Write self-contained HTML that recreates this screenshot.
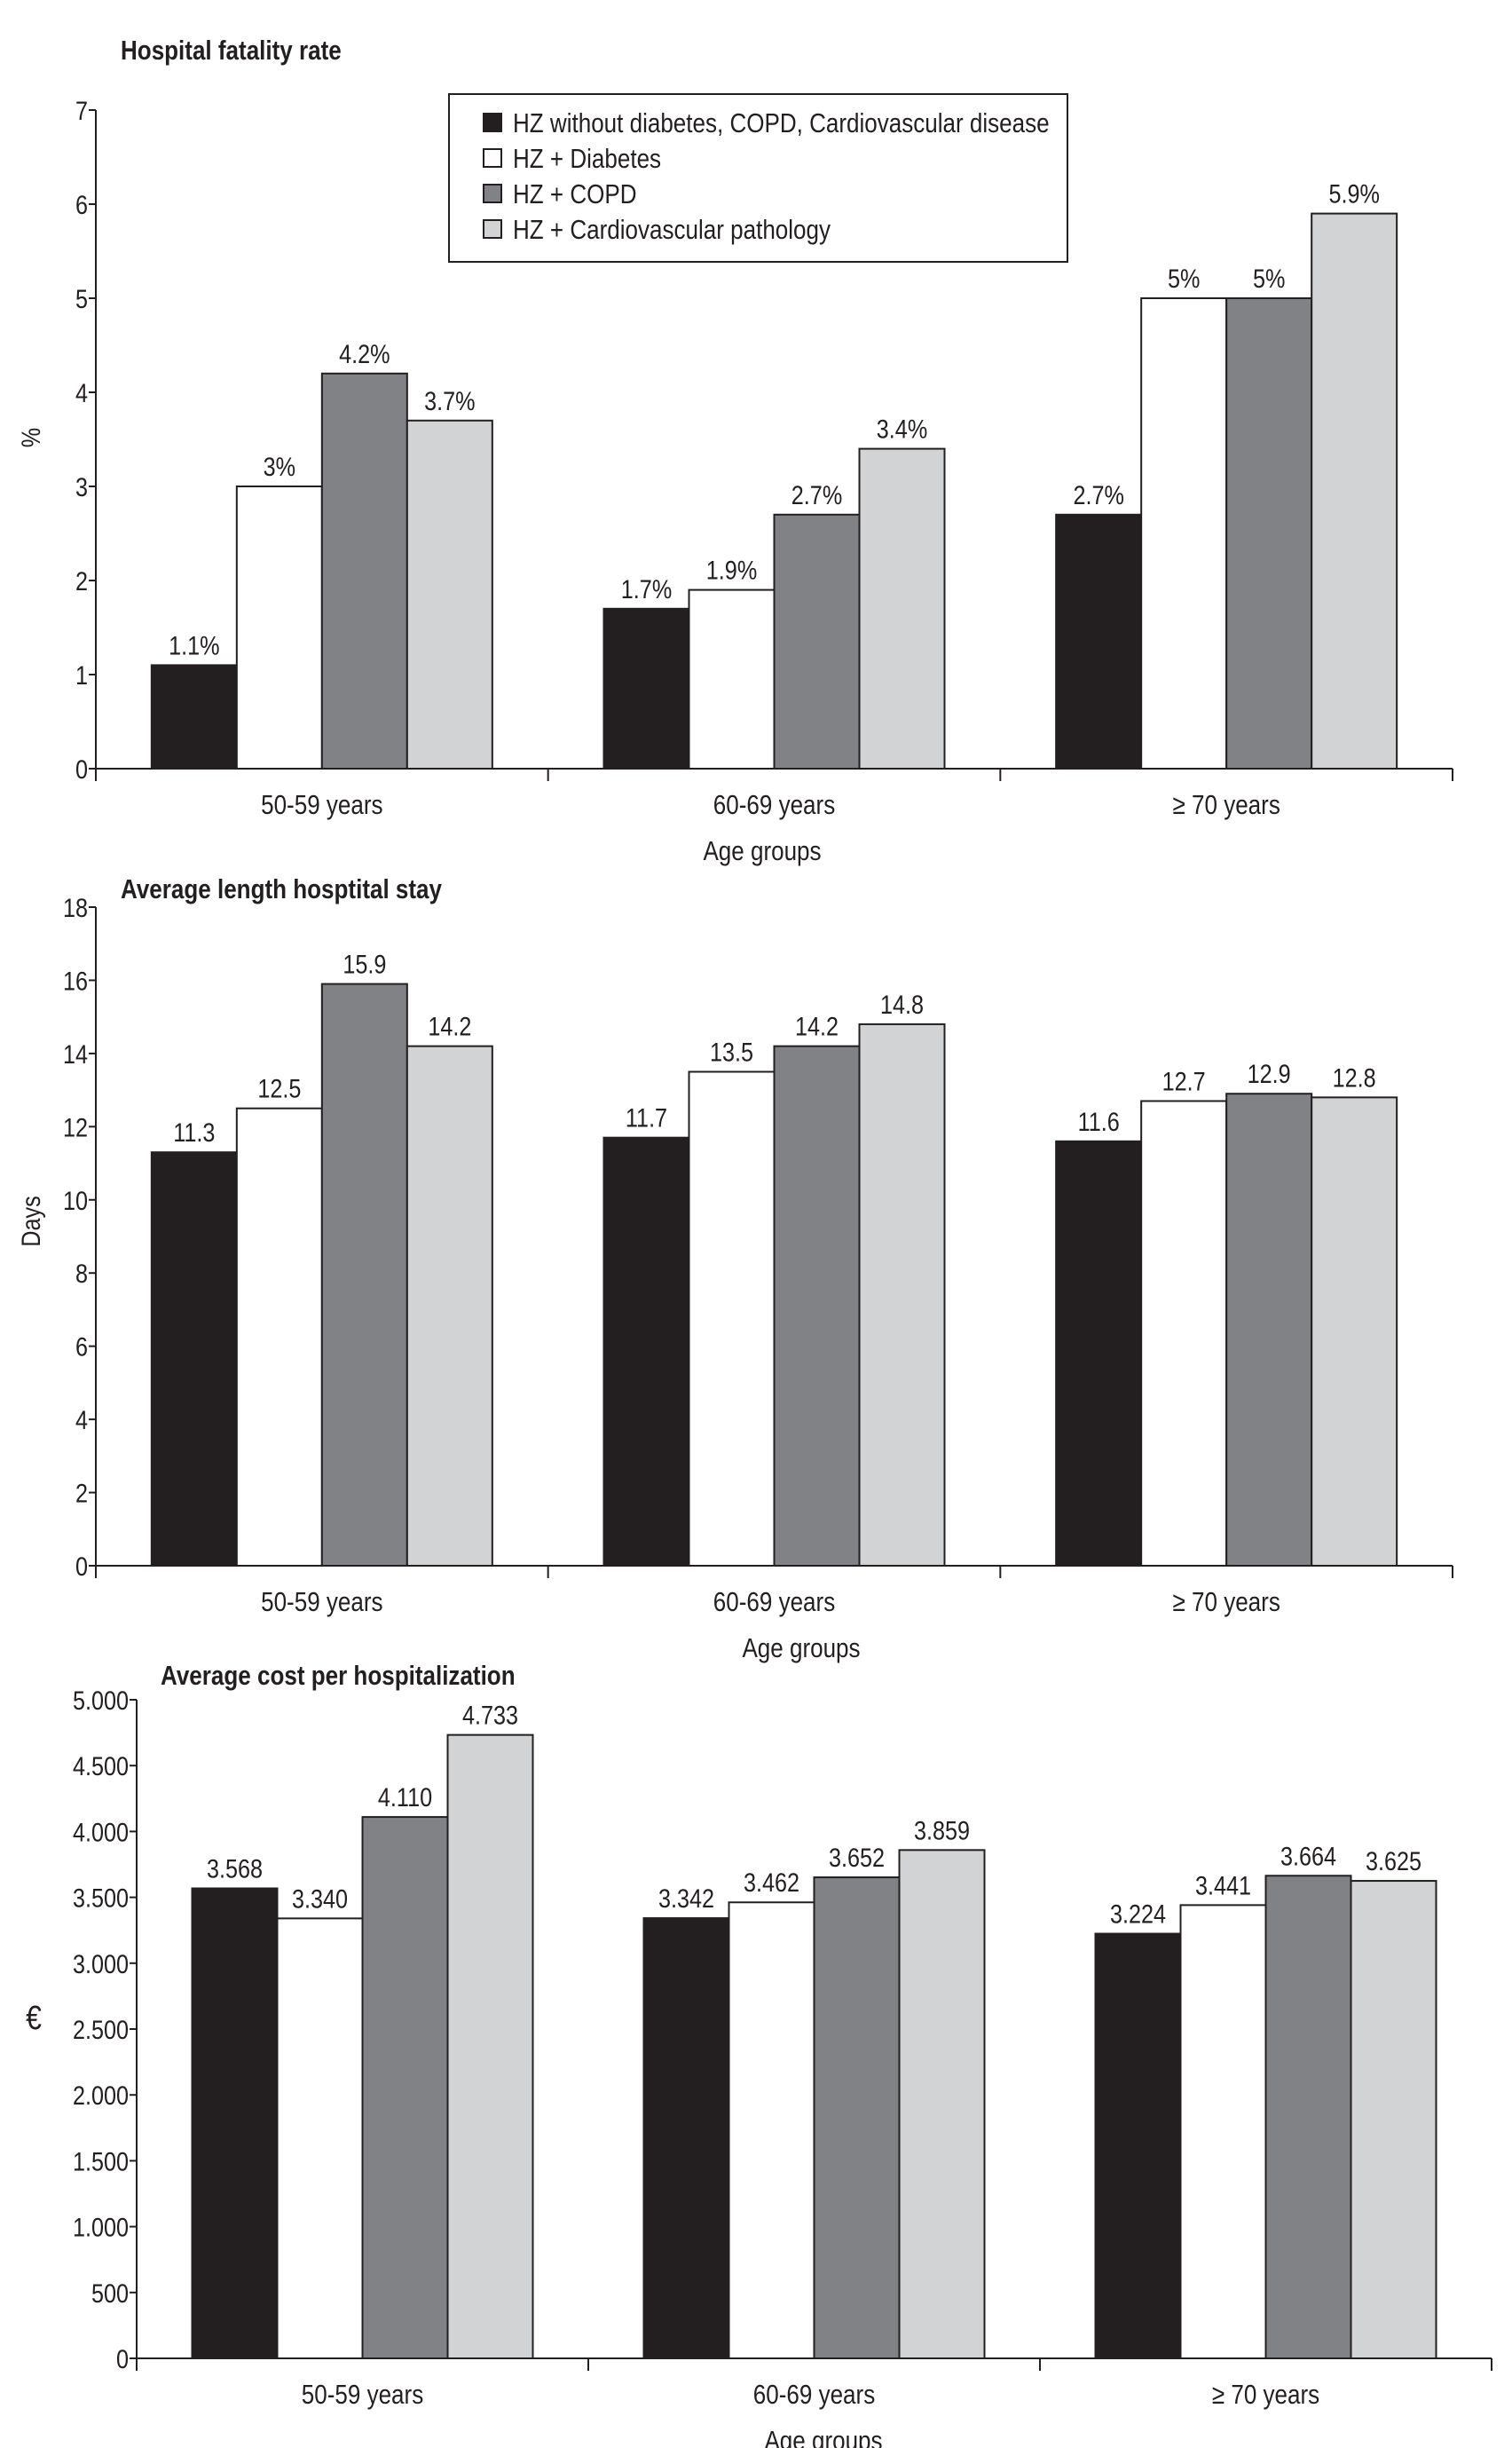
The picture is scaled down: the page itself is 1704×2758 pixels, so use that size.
<!DOCTYPE html>
<html><head><meta charset="utf-8"><style>
html,body{margin:0;padding:0;background:#fff}
svg{display:block}
text{font-family:"Liberation Sans Narrow","Liberation Sans",sans-serif;fill:#231f20}
</style></head><body>
<svg id="s" width="1704" height="2758" viewBox="0 0 1704 2758" xmlns="http://www.w3.org/2000/svg"></svg>
<script>
const categories = ["50-59 years","60-69 years","\u2265 70 years"];
const seriesNames = ["HZ without diabetes, COPD, Cardiovascular disease","HZ + Diabetes","HZ + COPD","HZ + Cardiovascular pathology"];
const fatalityValues = [[1.1,1.7,2.7],[3,1.9,5],[4.2,2.7,5],[3.7,3.4,5.9]];
const fatalityLabels = [["1.1%","1.7%","2.7%"],["3%","1.9%","5%"],["4.2%","2.7%","5%"],["3.7%","3.4%","5.9%"]];
const fatalityTicks = [0,1,2,3,4,5,6,7];
const stayValues = [[11.3,11.7,11.6],[12.5,13.5,12.7],[15.9,14.2,12.9],[14.2,14.8,12.8]];
const stayLabels = [["11.3","11.7","11.6"],["12.5","13.5","12.7"],["15.9","14.2","12.9"],["14.2","14.8","12.8"]];
const stayTicks = [0,2,4,6,8,10,12,14,16,18];
const costValues = [[3568,3342,3224],[3340,3462,3441],[4110,3652,3664],[4733,3859,3625]];
const costLabels = [["3.568","3.342","3.224"],["3.340","3.462","3.441"],["4.110","3.652","3.664"],["4.733","3.859","3.625"]];
const costTicks = [0,500,1000,1500,2000,2500,3000,3500,4000,4500,5000];
const costTickLabels = ["0","500","1.000","1.500","2.000","2.500","3.000","3.500","4.000","4.500","5.000"];

const fills = ["#231f20","#ffffff","#808285","#d1d3d4"];
const NS = "http://www.w3.org/2000/svg";
const svg = document.getElementById('s');
function el(tag, attrs, parent){const e=document.createElementNS(NS,tag);for(const k in attrs)e.setAttribute(k,attrs[k]);(parent||svg).appendChild(e);return e;}
function txt(parent,x,y,s,size,anchor,weight,rot){
  const t=el('text',{transform:`translate(${x},${y})`+(rot?` rotate(${rot})`:'')+' scale(0.84,1)','font-size':size,'text-anchor':anchor||'middle','font-weight':weight||'normal'},parent);
  t.textContent=s;return t;
}
function chart(cfg){
  const g=el('g',{});
  
  
  const y=v=>cfg.y0-(v-cfg.vmin)/(cfg.vmax-cfg.vmin)*(cfg.y0-cfg.y1);
  const groupW=(cfg.xEnd-cfg.ax)/categories.length;
  const barW=96;
  const tt=txt(g,cfg.titleX,cfg.titleY,cfg.title,31,'start','bold');
  
  
  for(let s=0;s<cfg.values.length;s++){
    for(let c=0;c<categories.length;c++){
      const v=cfg.values[s][c];
      const x=cfg.ax+c*groupW+(groupW-4*barW)/2+s*barW;
      const r=el('rect',{x:x,y:y(v),width:barW,height:cfg.y0-y(v),fill:fills[s],stroke:'#231f20','stroke-width':2},g);
      
      
      const l=txt(g,x+barW/2,y(v)-12,cfg.labels[s][c],30);
      
      
    }
  }
  el('line',{x1:cfg.ax,y1:cfg.y0,x2:cfg.xEnd,y2:cfg.y0,stroke:'#231f20','stroke-width':2},g);
  el('line',{x1:cfg.ax,y1:cfg.y0+14,x2:cfg.ax,y2:cfg.y1,stroke:'#231f20','stroke-width':2},g);
  for(let c=0;c<=categories.length;c++){
    const x=cfg.ax+c*groupW;
    el('line',{x1:x,y1:cfg.y0,x2:x,y2:cfg.y0+14,stroke:'#231f20','stroke-width':2},g);
  }
  for(let c=0;c<categories.length;c++){
    const l=txt(g,cfg.ax+(c+0.5)*groupW,cfg.y0+51,categories[c],31);
    
    
  }
  for(let i=0;i<cfg.ticks.length;i++){
    const yy=y(cfg.ticks[i]);
    el('line',{x1:cfg.ax-8,y1:yy,x2:cfg.ax,y2:yy,stroke:'#231f20','stroke-width':2},g);
    const l=txt(g,cfg.ax-9,yy+11,cfg.tickLabels[i],30,'end');
    
    
  }
  const xt=txt(g,cfg.xTitleX,cfg.y0+103,'Age groups',31);
  
  
  const yt=txt(g,cfg.yTitleX,cfg.yTitleY,cfg.yTitle,cfg.yTitleSize||30,'middle','normal',cfg.yRot?-90:0);
  
  
}
chart({name:'fatality-chart',title:'Hospital fatality rate',titleX:136,titleY:67,values:fatalityValues,labels:fatalityLabels,
  ticks:fatalityTicks,tickLabels:fatalityTicks.map(String),vmin:0,vmax:7,ax:108,xEnd:1637,y0:866,y1:124,xTitleX:859,yTitle:'%',yTitleX:45,yTitleY:493,yRot:true});
chart({name:'stay-chart',title:'Average length hosptital stay',titleX:136,titleY:1012,values:stayValues,labels:stayLabels,
  ticks:stayTicks,tickLabels:stayTicks.map(String),vmin:0,vmax:18,ax:108,xEnd:1637,y0:1764,y1:1022,xTitleX:903,yTitle:'Days',yTitleX:45,yTitleY:1376,yRot:true});
chart({name:'cost-chart',title:'Average cost per hospitalization',titleX:181,titleY:1898,values:costValues,labels:costLabels,
  ticks:costTicks,tickLabels:costTickLabels,vmin:0,vmax:5000,ax:154,xEnd:1681,y0:2657,y1:1915,xTitleX:928,yTitle:'\u20ac',yTitleX:38,yTitleY:2286,yTitleSize:38,yRot:false});
const lg=el('g',{});


el('rect',{x:506,y:106,width:697,height:189,fill:'#fff',stroke:'#231f20','stroke-width':2},lg);
for(let i=0;i<seriesNames.length;i++){
  const yy=128+i*40;
  const sw=el('rect',{x:545,y:yy,width:20,height:20,fill:fills[i],stroke:'#231f20','stroke-width':2},lg);
  
  
  const t=txt(lg,578,yy+21,seriesNames[i],31,'start');
  
  
}
</script>
</body></html>
